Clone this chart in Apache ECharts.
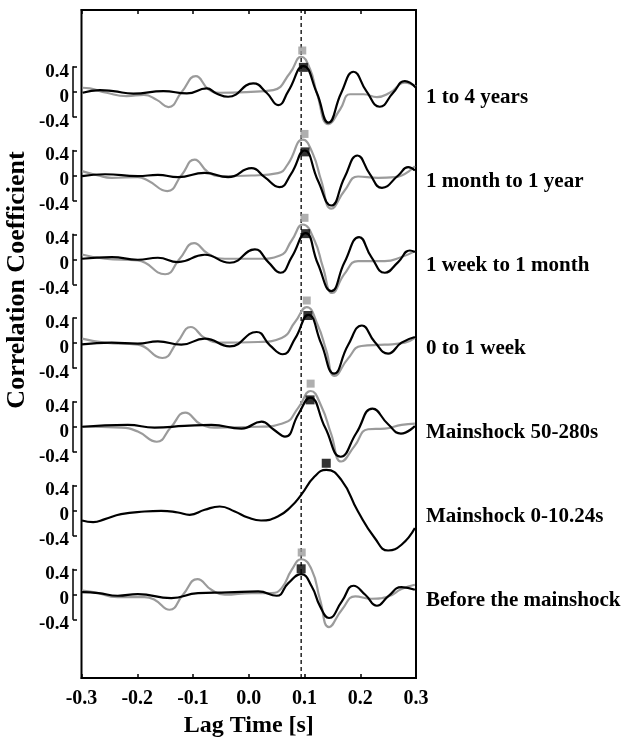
<!DOCTYPE html>
<html><head><meta charset="utf-8">
<script src="https://cdn.jsdelivr.net/npm/echarts@6/dist/echarts.min.js"></script>
<style>html,body{margin:0;padding:0;background:#fff}#c{width:643px;height:739px}</style>
</head><body><div id="c"></div>
<script>
// ---------------- data ----------------
const traceLabels = ['1 to 4 years','1 month to 1 year','1 week to 1 month','0 to 1 week','Mainshock 50-280s','Mainshock 0-10.24s','Before the mainshock'];
const refLag = 0.094;
const xTickMin = -0.3, xTickMax = 0.3, xTickStep = 0.1;
const bracketTicks = [-0.4, 0, 0.4];

const grey1 = [[-0.298,0.064],[-0.285,0.053],[-0.255,-0.016],[-0.219,-0.069],[-0.188,-0.05],[-0.165,-0.13],[-0.144,-0.245],[-0.120,0],[-0.095,0.25],[-0.072,0.037],[-0.052,-0.016],[-0.004,-0.005],[0.044,0.027],[0.074,0.30],[0.094,0.56],[0.110,0.36],[0.122,-0.016],[0.143,-0.52],[0.164,-0.28],[0.182,-0.04],[0.206,-0.04],[0.23,-0.085],[0.253,-0.016],[0.280,0.144],[0.3,0.08]];
const black1 = [[-0.298,-0.016],[-0.267,0.027],[-0.243,0.01],[-0.207,-0.03],[-0.153,0.01],[-0.111,-0.027],[-0.0755,0.053],[-0.058,-0.027],[-0.037,-0.08],[0.008,0.133],[0.032,-0.016],[0.053,-0.213],[0.071,0.01],[0.098,0.41],[0.122,-0.016],[0.143,-0.495],[0.166,-0.016],[0.188,0.32],[0.211,0.01],[0.235,-0.24],[0.259,-0.016],[0.280,0.17],[0.3,0.064]];

const grey2 = [[-0.299,0.07],[-0.27,0],[-0.246,-0.037],[-0.199,-0.027],[-0.181,-0.08],[-0.146,-0.25],[-0.121,0],[-0.097,0.255],[-0.073,0.053],[-0.049,-0.01],[0.005,0],[0.0525,0.037],[0.0705,0.186],[0.097,0.575],[0.115,0.346],[0.130,-0.08],[0.148,-0.53],[0.172,-0.24],[0.196,-0.016],[0.232,-0.037],[0.262,-0.027],[0.298,0.15]];
const black2 = [[-0.299,-0.01],[-0.258,0.02],[-0.199,-0.01],[-0.163,0.01],[-0.127,-0.027],[-0.079,0.043],[-0.037,-0.027],[0.005,0.117],[0.0285,-0.027],[0.055,-0.186],[0.076,0.027],[0.1,0.4],[0.124,-0.08],[0.148,-0.48],[0.172,-0.027],[0.195,0.32],[0.217,0.027],[0.239,-0.197],[0.268,0],[0.286,0.133],[0.298,0.08]];

const grey3 = [[-0.299,0.077],[-0.258,0.008],[-0.199,-0.019],[-0.150,-0.24],[-0.124,0.008],[-0.098,0.258],[-0.073,0.088],[-0.043,0.008],[0.017,0.008],[0.056,0.061],[0.077,0.3],[0.097,0.556],[0.118,0.3],[0.133,-0.125],[0.150,-0.54],[0.172,-0.23],[0.196,-0.03],[0.244,-0.03],[0.274,0.035],[0.298,0.13]];
const black3 = [[-0.299,0.008],[-0.246,0.035],[-0.199,-0.008],[-0.163,0.024],[-0.127,-0.045],[-0.079,0.072],[-0.034,-0.056],[0.011,0.157],[0.035,-0.045],[0.057,-0.216],[0.077,0.035],[0.102,0.418],[0.124,-0.072],[0.148,-0.51],[0.172,-0.045],[0.198,0.354],[0.220,0.035],[0.244,-0.216],[0.268,-0.045],[0.289,0.14],[0.298,0.115]];

const grey4 = [[-0.299,0.07],[-0.258,0.005],[-0.199,-0.027],[-0.155,-0.24],[-0.128,0.016],[-0.104,0.256],[-0.079,0.08],[-0.049,0.005],[0.017,0.016],[0.059,0.08],[0.083,0.335],[0.104,0.575],[0.124,0.28],[0.139,-0.117],[0.154,-0.527],[0.178,-0.25],[0.202,-0.048],[0.244,-0.027],[0.280,0.005],[0.298,0.08]];
const black4 = [[-0.299,-0.021],[-0.246,0.005],[-0.199,-0.01],[-0.163,0.027],[-0.121,-0.027],[-0.079,0.07],[-0.034,-0.053],[0.014,0.176],[0.038,-0.037],[0.061,-0.18],[0.083,0.07],[0.107,0.45],[0.130,-0.01],[0.153,-0.49],[0.178,-0.037],[0.203,0.28],[0.226,0.016],[0.250,-0.17],[0.274,0.005],[0.298,0.096]];

const grey5 = [[-0.299,0],[-0.229,-0.013],[-0.199,-0.077],[-0.165,-0.24],[-0.14,-0.013],[-0.114,0.226],[-0.086,0.04],[-0.056,-0.013],[0.017,0],[0.065,0.067],[0.089,0.306],[0.111,0.572],[0.130,0.333],[0.148,-0.12],[0.166,-0.556],[0.190,-0.306],[0.214,-0.04],[0.244,-0.03],[0.274,0.03],[0.298,0.05]];
const black5 = [[-0.299,0],[-0.217,0.03],[-0.169,-0.013],[-0.115,0.013],[-0.067,0.03],[-0.013,-0.03],[0.023,0.083],[0.044,-0.04],[0.065,-0.157],[0.089,0.2],[0.110,0.466],[0.137,-0.013],[0.165,-0.48],[0.193,-0.1],[0.222,0.29],[0.250,0.04],[0.273,-0.109],[0.298,0.013]];

const grey6 = [];
const black6 = [[-0.299,-0.16],[-0.279,-0.186],[-0.258,-0.138],[-0.229,-0.059],[-0.187,-0.016],[-0.157,-0.005],[-0.127,-0.032],[-0.106,-0.069],[-0.079,0.011],[-0.052,0.064],[-0.025,-0.016],[-0.0015,-0.112],[0.022,-0.16],[0.052,-0.096],[0.076,0.064],[0.094,0.25],[0.118,0.543],[0.139,0.65],[0.166,0.49],[0.196,-0.016],[0.226,-0.44],[0.250,-0.64],[0.274,-0.548],[0.298,-0.28]];

const grey7 = [[-0.299,0.06],[-0.276,0.03],[-0.235,-0.045],[-0.187,-0.045],[-0.169,-0.088],[-0.142,-0.248],[-0.118,-0.008],[-0.092,0.242],[-0.067,0.072],[-0.043,-0.008],[0.005,0.019],[0.041,0.019],[0.059,0.098],[0.077,0.39],[0.094,0.56],[0.113,0.39],[0.128,-0.088],[0.144,-0.525],[0.167,-0.248],[0.191,-0.035],[0.220,-0.072],[0.250,-0.035],[0.274,0.083],[0.298,0.152]];
const black7 = [[-0.299,0.035],[-0.270,0.019],[-0.235,-0.024],[-0.199,0.003],[-0.139,-0.061],[-0.091,0.019],[-0.037,0.029],[0.017,0.045],[0.050,-0.024],[0.071,0.178],[0.094,0.322],[0.113,0.125],[0.128,-0.194],[0.144,-0.38],[0.167,-0.114],[0.188,0.136],[0.209,-0.008],[0.230,-0.184],[0.250,-0.035],[0.274,0.114],[0.298,0.072]];

const greyPeaks = [[0.096,0.66],[0.1,0.665],[0.1,0.663],[0.104,0.68],[0.111,0.69],null,[0.095,0.668]];
const blackPeaks = [[0.098,0.39],[0.101,0.378],[0.102,0.41],[0.106,0.44],[0.110,0.43],[0.139,0.756],[0.094,0.407]];

const greyTraces = [grey1,grey2,grey3,grey4,grey5,grey6,grey7];
const blackTraces = [black1,black2,black3,black4,black5,black6,black7];

// ---------------- layout ----------------
const FONT = '"Liberation Serif","Times New Roman",serif';
const GRID = {left: 81.5, top: 10, right: 416, bottom: 678};
const PX_PER_UNIT = 62.5;
const YMAX = (GRID.bottom - GRID.top) / PX_PER_UNIT;
const STEP = 1.34;
const N = traceLabels.length;
const offsets = traceLabels.map((_, i) => STEP * (N - i));
const zeroPx = offsets.map(o => GRID.bottom - o * PX_PER_UNIT);
const GREY = '#9b9b9b';

const grids = [{left: GRID.left, top: GRID.top, width: GRID.right - GRID.left, height: GRID.bottom - GRID.top,
  outerBoundsMode: 'none', containLabel: false,
  show: true, borderColor: '#000', borderWidth: 2, backgroundColor: 'transparent'}];
const xAxes = [
  {gridIndex: 0, type: 'value', min: xTickMin, max: xTickMax, interval: xTickStep, position: 'bottom',
   axisLine: {show: true, lineStyle: {color: '#000', width: 2}},
   axisTick: {show: true, inside: true, length: 4, lineStyle: {color: '#000', width: 1.5}},
   splitLine: {show: false},
   axisLabel: {color: '#000', fontFamily: FONT, fontWeight: 'bold', fontSize: 20, margin: 11,
     formatter: v => Math.abs(v) < 1e-9 ? '0.0' : v.toFixed(1)},
   name: 'Lag Time [s]', nameLocation: 'middle', nameGap: 36,
   nameTextStyle: {color: '#000', fontFamily: FONT, fontWeight: 'bold', fontSize: 24}},
  {gridIndex: 0, type: 'value', min: xTickMin, max: xTickMax, interval: xTickStep, position: 'top',
   axisLine: {show: true, lineStyle: {color: '#000', width: 2}},
   axisTick: {show: true, inside: true, length: 4, lineStyle: {color: '#000', width: 1.5}},
   splitLine: {show: false}, axisLabel: {show: false}}
];
const yAxes = [{gridIndex: 0, type: 'value', min: 0, max: YMAX, show: false}];

traceLabels.forEach((_, i) => {
  grids.push({left: 73, width: 4, top: zeroPx[i] - 0.4 * PX_PER_UNIT, height: 0.8 * PX_PER_UNIT,
    outerBoundsMode: 'none', containLabel: false});
  xAxes.push({gridIndex: i + 1, type: 'value', min: 0, max: 1, show: false});
  yAxes.push({gridIndex: i + 1, type: 'value', min: bracketTicks[0], max: bracketTicks[2], interval: 0.4,
    axisLine: {show: true, lineStyle: {color: '#000', width: 1.5}},
    axisTick: {show: true, inside: true, length: 4, lineStyle: {color: '#000', width: 1.5}},
    splitLine: {show: false},
    axisLabel: {color: '#000', fontFamily: FONT, fontWeight: 'bold', fontSize: 19, margin: 4,
      verticalAlign: 'top', lineHeight: 10,
      formatter: v => Math.abs(v) < 1e-9 ? '0' : v.toFixed(1)}});
});

const series = [];
greyTraces.forEach((tr, i) => {
  if (!tr.length) return;
  series.push({type: 'line', xAxisIndex: 0, yAxisIndex: 0, smooth: 0.5, symbol: 'none',
    lineStyle: {color: GREY, width: 2.2}, z: 2, silent: true,
    data: tr.map(p => [p[0], p[1] + offsets[i]])});
});
blackTraces.forEach((tr, i) => {
  series.push({type: 'line', xAxisIndex: 0, yAxisIndex: 0, smooth: 0.5, symbol: 'none',
    lineStyle: {color: '#000', width: 2.2}, z: 3, silent: true,
    data: tr.map(p => [p[0], p[1] + offsets[i]])});
});
series.push({type: 'line', xAxisIndex: 0, yAxisIndex: 0, symbol: 'none', z: 1, silent: true,
  lineStyle: {color: '#000', width: 1.3, type: [4, 3]},
  data: [[refLag, 0], [refLag, YMAX]]});
series.push({type: 'scatter', xAxisIndex: 0, yAxisIndex: 0, symbol: 'rect', symbolSize: 8, z: 4, silent: true,
  itemStyle: {color: GREY},
  data: greyPeaks.map((p, i) => p ? [p[0], p[1] + offsets[i]] : null).filter(Boolean)});
series.push({type: 'scatter', xAxisIndex: 0, yAxisIndex: 0, symbol: 'rect', symbolSize: 9, z: 5, silent: true,
  itemStyle: {color: '#000'},
  data: blackPeaks.map((p, i) => [p[0], p[1] + offsets[i]])});

const graphics = traceLabels.map((t, i) => ({type: 'text', x: 426, y: zeroPx[i] + 6,
  style: {text: t, fill: '#000', font: 'bold 21px ' + FONT, align: 'left', verticalAlign: 'middle'}}));
graphics.push({type: 'text', x: 17, y: 280, rotation: Math.PI / 2,
  style: {text: 'Correlation Coefficient', fill: '#000', font: 'bold 26px ' + FONT, align: 'center', verticalAlign: 'middle'}});

const chart = echarts.init(document.getElementById('c'), null, {renderer: 'canvas'});
chart.setOption({animation: false, backgroundColor: '#fff', grid: grids, xAxis: xAxes, yAxis: yAxes, series, graphic: graphics});
</script></body></html>
